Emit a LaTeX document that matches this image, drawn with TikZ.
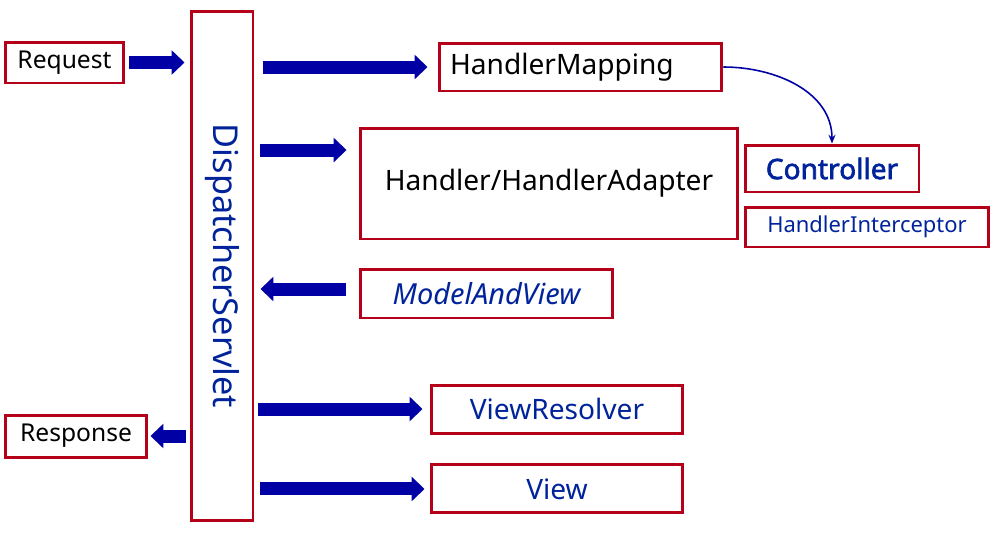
\documentclass[tikz,border=0pt]{standalone}
\usepackage{graphicx}
\usepackage{fontspec}
\setmainfont{Noto Sans}
\newfontfamily\ctrlfont{Noto Sans}[FakeBold=2.2]
\usetikzlibrary{arrows.meta,positioning}
\definecolor{boxred}{RGB}{180,0,25}
\definecolor{textblue}{RGB}{0,35,155}
\definecolor{arrowblue}{RGB}{0,0,165}

\begin{document}
\begin{tikzpicture}[x=0.02cm,y=-0.02cm,
  main node/.style={draw=boxred,line width=1.7pt,inner sep=0pt,
  font=\fontsize{16}{19}\selectfont},
  blue text/.style={text=textblue},
  fat arrow/.style={draw=arrowblue,line width=0.26cm,
  -{Triangle[length=0.26cm,width=0.48cm]}},
  thin arrow/.style={draw=arrowblue,line width=0.9pt,
  -{Stealth[length=5pt,width=4pt]}}]
\useasboundingbox (0,0) rectangle (1000,535);
\node[main node,blue text,minimum width=1.24cm,minimum height=10.2cm,
  font=\fontsize{19.5}{23}\selectfont](ds) at (222,266){\rotatebox{-90}{DispatcherServlet}};
\node[main node,minimum width=2.38cm,minimum height=0.82cm,
  font=\fontsize{14}{17}\selectfont](req) at (64.5,62.5){Request};
\node[main node,minimum width=2.84cm,minimum height=0.84cm,
  font=\fontsize{14}{17}\selectfont](resp) at (76,436){Response};
\node[main node,minimum width=5.66cm,minimum height=0.96cm,
  text width=5.22cm,align=left](hm) at (580.5,67){HandlerMapping};
\node[main node,minimum width=7.56cm,minimum height=2.22cm](ha) at (549,183.5){Handler/HandlerAdapter};
\node[main node,blue text,minimum width=3.48cm,minimum height=0.94cm,
  font=\ctrlfont\fontsize{16}{19}\selectfont](ctrl) at (832,168.5){Controller};
\node[main node,blue text,minimum width=4.88cm,minimum height=0.8cm,
  font=\fontsize{12.5}{15}\selectfont](hi) at (867,227){HandlerInterceptor};
\node[main node,blue text,minimum width=5.06cm,minimum height=0.98cm,
  font=\fontsize{16.5}{19}\selectfont\itshape](mav) at (486.5,293.5){ModelAndView};
\node[main node,blue text,minimum width=5.04cm,minimum height=0.96cm](vr) at (557,409){ViewResolver};
\node[main node,blue text,minimum width=5.04cm,minimum height=0.96cm](view)[below=0.58cm of vr]{View};

\coordinate (haIn) at ([yshift=0.67cm]ha.west);
\coordinate (mavOut) at ([yshift=0.09cm]mav.west);

\draw[fat arrow,shorten <=0.08cm,shorten >=0.1cm] (req.east) -- (req.east -| ds.west);
\draw[fat arrow,shorten <=0.18cm,shorten >=0.2cm] (hm.west -| ds.east) -- (hm.west);
\draw[fat arrow,shorten <=0.12cm,shorten >=0.24cm] (haIn -| ds.east) -- (haIn);
\draw[fat arrow,shorten <=0.26cm,shorten >=0.12cm] (mavOut) -- (mavOut -| ds.east);
\draw[fat arrow,shorten <=0.08cm,shorten >=0.04cm] (resp.east -| ds.west) -- (resp.east);
\draw[fat arrow,shorten <=0.08cm,shorten >=0.14cm] (vr.west -| ds.east) -- (vr.west);
\draw[fat arrow,shorten <=0.12cm,shorten >=0.1cm] (view.west -| ds.east) -- (view.west);
\draw[thin arrow] (hm.east) to[out=0,in=90] (ctrl.north);

\end{tikzpicture}
\end{document}
